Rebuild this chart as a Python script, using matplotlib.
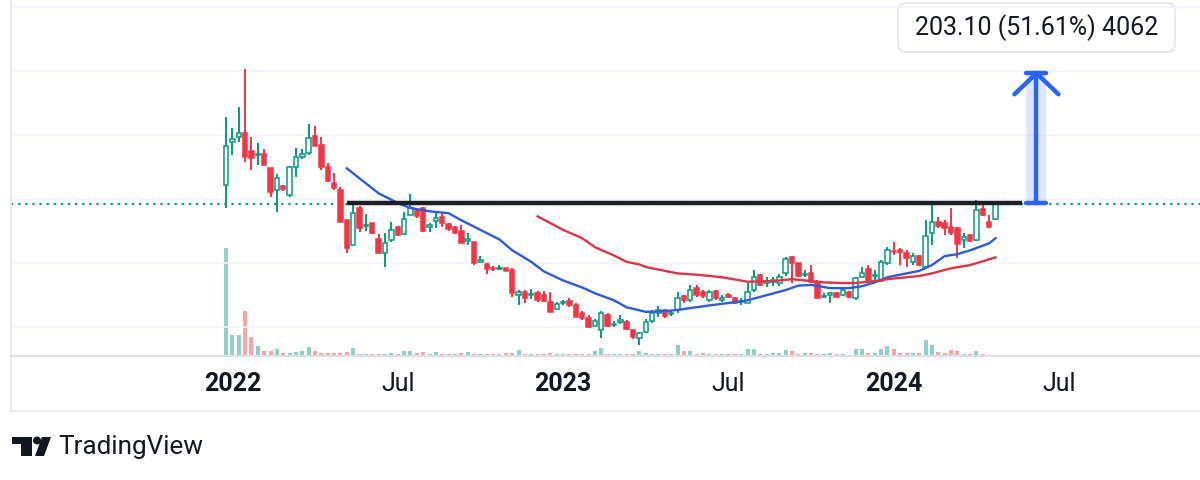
import matplotlib
matplotlib.use('Agg')
import matplotlib.pyplot as plt
import matplotlib.dates as mdates
from matplotlib.lines import Line2D
from matplotlib.patches import Rectangle, Circle, Polygon, FancyBboxPatch
from matplotlib.transforms import Affine2D, blended_transform_factory
import numpy as np
import pandas as pd

plt.rcParams['font.family'] = ['Roboto', 'DejaVu Sans']

# weekly candles, Dec 2021 - Apr 2024
weeks = pd.date_range('2021-12-27', periods=122, freq='W-MON')
opens = [422, 490, 497, 503, 475, 469, 470, 448, 414, 420, 406, 450, 466, 472, 498, 484, 450, 425, 414, 367,
         328, 386, 358, 362, 337, 316, 336, 356, 345, 375, 382, 386, 357, 366, 372, 361, 356, 351, 335, 333,
         302, 298, 293, 291, 293, 290, 250, 255, 250, 253, 250, 239, 228, 237, 241, 234, 222, 214, 202, 195,
         219, 203, 208, 208, 195, 183, 192, 209, 222, 227, 220, 227, 248, 242, 261, 255, 242, 256, 243, 250,
         245, 239, 238, 258, 281, 269, 270, 269, 284, 309, 300, 281, 284, 270, 247, 251, 254, 250, 255, 245,
         278, 291, 280, 272, 300, 319, 320, 316, 302, 311, 294, 347, 364, 362, 356, 355, 336, 344, 336, 384,
         364, 369]
highs = [528, 511, 544, 603, 497, 487, 478, 448, 439, 422, 452, 480, 478, 517, 514, 497, 456, 441, 419, 367,
         394, 389, 377, 363, 345, 347, 364, 358, 380, 408, 386, 387, 363, 378, 378, 362, 358, 359, 347, 333,
         311, 300, 296, 297, 293, 292, 258, 258, 259, 256, 256, 255, 240, 243, 245, 237, 225, 219, 213, 225,
         222, 210, 219, 212, 195, 193, 213, 227, 233, 229, 227, 255, 250, 266, 266, 258, 258, 258, 250, 253,
         247, 245, 269, 289, 283, 278, 278, 283, 309, 311, 300, 289, 297, 273, 253, 255, 255, 262, 257, 278,
         294, 297, 289, 305, 325, 333, 323, 320, 316, 312, 367, 394, 372, 367, 386, 356, 347, 345, 398, 394,
         375, 394]
lows = [386, 469, 489, 458, 445, 453, 453, 403, 380, 413, 404, 434, 463, 469, 483, 445, 427, 414, 364, 316,
        328, 348, 350, 346, 316, 294, 333, 343, 344, 375, 370, 348, 348, 355, 356, 351, 345, 331, 328, 297,
        300, 283, 288, 289, 287, 247, 234, 238, 244, 240, 240, 223, 228, 234, 232, 216, 212, 199, 202, 183,
        200, 200, 205, 195, 182, 172, 191, 207, 216, 215, 217, 222, 238, 239, 247, 245, 240, 243, 240, 245,
        236, 234, 237, 255, 264, 262, 264, 264, 280, 269, 278, 278, 269, 245, 245, 237, 245, 248, 245, 242,
        277, 270, 272, 270, 297, 312, 297, 294, 297, 296, 292, 328, 355, 344, 344, 308, 323, 333, 334, 373,
        355, 367]
closes = [483, 494, 503, 466, 464, 471, 453, 411, 433, 416, 450, 466, 470, 495, 483, 450, 428, 417, 364, 323,
          378, 355, 360, 347, 316, 331, 352, 344, 369, 386, 373, 350, 359, 370, 362, 353, 347, 331, 338, 300,
          305, 291, 291, 293, 288, 253, 255, 245, 252, 242, 241, 223, 236, 239, 234, 216, 214, 200, 209, 222,
          202, 205, 211, 197, 184, 191, 208, 222, 227, 217, 222, 246, 242, 258, 250, 248, 255, 245, 246, 247,
          237, 241, 255, 278, 266, 272, 273, 278, 306, 300, 280, 283, 270, 245, 249, 253, 247, 258, 247, 277,
          284, 273, 282, 302, 320, 317, 318, 308, 311, 297, 342, 364, 358, 355, 347, 330, 341, 334, 383, 375,
          356, 393]
volume = [1080, 210, 210, 450, 190, 100, 50, 50, 70, 30, 30, 40, 50, 90, 50, 30, 30, 30, 30, 40,
          80, 20, 20, 20, 20, 25, 30, 20, 50, 50, 30, 40, 20, 40, 20, 20, 20, 30, 40, 20,
          20, 20, 20, 20, 30, 30, 60, 20, 20, 20, 20, 30, 20, 20, 20, 20, 20, 20, 50, 80,
          20, 20, 20, 20, 20, 50, 30, 20, 20, 20, 20, 110, 50, 50, 20, 30, 20, 20, 20, 20,
          20, 20, 70, 70, 20, 20, 30, 30, 60, 50, 20, 30, 30, 20, 20, 30, 20, 20, 15, 70,
          70, 30, 30, 70, 100, 70, 30, 30, 30, 30, 160, 110, 40, 30, 60, 50, 20, 20, 50, 20,
          15, 15]

# moving averages (week number, value)
ma_fast_week = [20, 25, 28, 30, 33, 36, 38, 41, 44, 46, 49, 51, 54, 57, 59, 62, 64, 67, 70, 72,
                77, 81, 83, 89, 91, 93, 96, 99, 101, 103, 105, 108, 110, 112, 114, 116, 118, 121, 122]
ma_fast = [448, 409, 394, 386, 381, 378, 367, 352, 337, 320, 302, 287, 273, 262, 253, 242, 231, 224, 225, 227,
           234, 239, 242, 258, 265, 266, 261, 261, 264, 270, 278, 284, 288, 297, 311, 314, 320, 331, 339]
ma_slow_week = [50, 54, 57, 59, 62, 64, 66, 67, 70, 72, 75, 79, 83, 87, 90, 92, 95, 98, 100, 103,
                105, 110, 112, 115, 118, 122]
ma_slow = [373, 352, 339, 325, 312, 302, 298, 294, 288, 284, 282, 278, 271, 272, 275, 273, 270, 269, 269, 272,
           275, 280, 284, 292, 297, 309]

tick_dates = ['2022-01-03', '2022-07-04', '2023-01-02', '2023-07-03', '2024-01-01', '2024-07-01']
tick_labels = ['2022', 'Jul', '2023', 'Jul', '2024', 'Jul']
tick_bold = [True, False, True, False, True, False]

level = 393.53
target = 596.63
line_start = '2022-05-09'
line_end = '2024-05-21'
arrow_date = '2024-06-06'
measure_text = '203.10 (51.61%) 4062'

GREEN = '#089981'
RED = '#f23645'
GRID = '#f0f3fa'
BLUE = '#2962ff'
INK = '#131722'

W, H = 1200, 480
fig = plt.figure(figsize=(12, 4.8), dpi=100)
fig.patch.set_facecolor('white')
pix = Affine2D().scale(1, -1).translate(0, H)  # top-left pixel coords

vax = fig.add_axes([11 / W, 1 - 356 / H, 1 - 11 / W, 356 / H])
ax = vax.twinx()
ax.set_zorder(vax.get_zorder() + 1)
ax.patch.set_visible(False)

x = mdates.date2num(weeks.to_pydatetime())
o, h, l, c = (np.array(v, dtype=float) for v in (opens, highs, lows, closes))
up = c >= o
col = np.where(up, GREEN, RED)

px_per_day = 6.36 / 7
xlim = (x[0] - (226 - 11) / px_per_day, x[0] + (1200 - 226) / px_per_day)

# volume
vax.bar(x, volume, 4.4, color=col, alpha=0.45, lw=0)
vax.set_ylim(0, max(volume) * 3.3)

# candles
ax.vlines(x, l, h, colors=col, lw=1.4, zorder=3)
ax.bar(x, np.maximum(np.abs(c - o), 1.5), 4.8, np.minimum(o, c),
       color=np.where(up, 'white', RED), edgecolor=col, linewidth=1.1, zorder=4)

# moving averages
ax.plot(weeks[np.array(ma_fast_week) - 1], ma_fast, color='#2f5bd8', lw=1.7, zorder=5)
ax.plot(weeks[np.array(ma_slow_week) - 1], ma_slow, color='#dc3545', lw=1.7, zorder=5)

# last price line and resistance
ax.axhline(closes[-1], color=GREEN, lw=1.6, ls=(0, (1, 2.2)), zorder=2)
ax.hlines(level + 1, mdates.date2num(pd.Timestamp(line_start)), mdates.date2num(pd.Timestamp(line_end)),
          color='#1c1f26', lw=3.2, zorder=6)

# measure arrow
xa = mdates.date2num(pd.Timestamp(arrow_date))
half = 10 / px_per_day
ax.add_patch(Rectangle((xa - half, level), 2 * half, target - level, color=BLUE, alpha=0.15, lw=0, zorder=6))
kw = dict(color=BLUE, lw=3.2, solid_capstyle='round', solid_joinstyle='round', zorder=7)
ax.plot([xa, xa], [level, target], **kw)
ax.plot([xa - half, xa + half], [level, level], **kw)
ax.plot([xa - half, xa + half], [target, target], **kw)
hdx, hdy = 22 / px_per_day, 21 / 0.64
ax.plot([xa - hdx, xa, xa + hdx], [target - hdy, target, target - hdy], **kw)

# axes, grid
ticks = mdates.date2num(pd.to_datetime(tick_dates).to_pydatetime())
for a in (ax, vax):
    a.set_xlim(*xlim)
    for s in a.spines.values():
        s.set_visible(False)
    a.tick_params(length=0, labelbottom=False, labelleft=False, labelright=False)
vax.set_yticks([])
ax.set_xticks(ticks)
ax.set_yticks(range(200, 701, 100))
ax.set_ylim(155, 711)
ax.grid(True, color=GRID, lw=1.2, zorder=0)
ax.set_axisbelow(True)

# time scale labels
btr = blended_transform_factory(ax.transData, pix)
for t, lab, b in zip(ticks, tick_labels, tick_bold):
    ax.text(t, 384, lab, transform=btr, ha='center', va='center', fontsize=18,
            fontweight='bold' if b else 'normal', color=INK, clip_on=False)

# frame lines
for xs, ys, cc in [([11, 11], [0, 411], '#e9ebf0'), ([11, 1200], [411, 411], '#e9ebf0'),
                   ([11, 1200], [356, 356], '#dcdfe6')]:
    fig.add_artist(Line2D(xs, ys, transform=pix, color=cc, lw=1.5))

# measure label
fig.add_artist(FancyBboxPatch((898, 3), 277, 49, boxstyle='round,pad=0,rounding_size=8',
                              transform=pix, facecolor='white', edgecolor='#e3e5ea', lw=1.2))
fig.text(1037, 28, measure_text, transform=pix, ha='center', va='center', fontsize=18, color=INK)

# TradingView mark
fig.add_artist(Polygon([(12, 437), (32, 437), (32, 456), (21, 456), (21, 444), (12, 444)],
                       closed=True, transform=pix, color=INK, lw=0))
fig.add_artist(Circle((37, 440.5), 4, transform=pix, color=INK, lw=0))
fig.add_artist(Polygon([(42, 437), (51, 437), (44, 456), (35, 456)], closed=True, transform=pix, color=INK, lw=0))
fig.text(58, 447, 'TradingView', transform=pix, ha='left', va='center', fontsize=18.8, color=INK)

fig.savefig('out.png', dpi=100, facecolor='white')
